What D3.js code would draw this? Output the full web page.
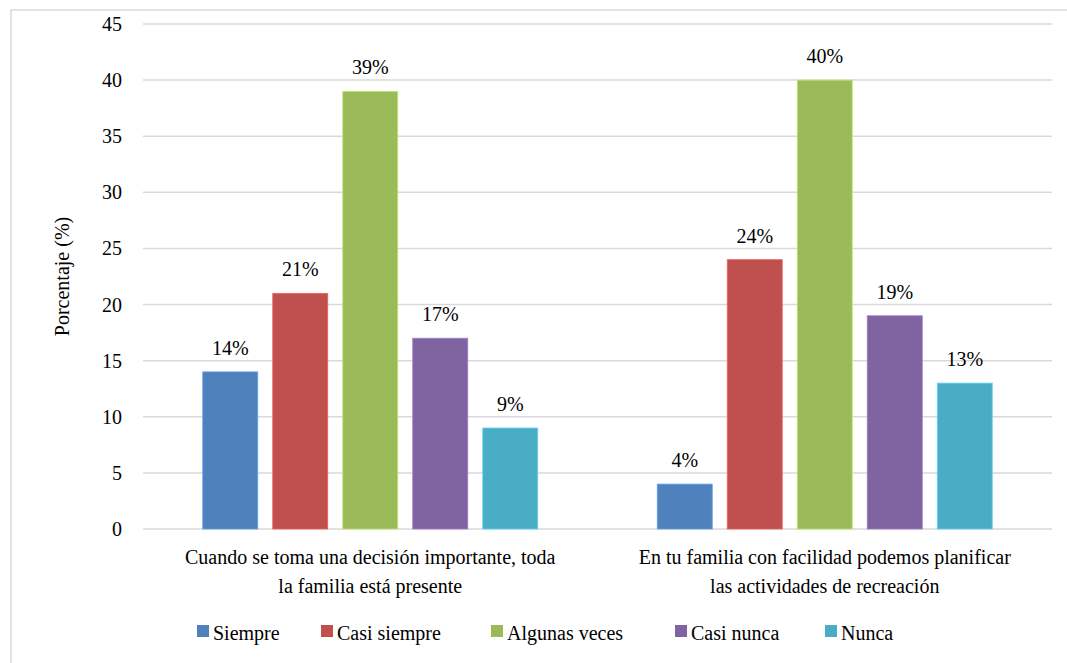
<!DOCTYPE html>
<html>
<head>
<meta charset="utf-8">
<script src="https://cdn.jsdelivr.net/npm/d3@7"></script>
</head>
<body style="margin:0;background:#fff">
<svg id="chart" width="1067" height="663"></svg>
<script>
const categories = [
  ["Cuando se toma una decisión importante, toda", "la familia está presente"],
  ["En tu familia con facilidad podemos planificar", "las actividades de recreación"],
];
const series = ["Siempre", "Casi siempre", "Algunas veces", "Casi nunca", "Nunca"];
const colors = ["#4F81BD", "#C0504D", "#9BBB59", "#8064A2", "#4BACC6"];
// values per category, in the order of series
const values = [
  [14, 21, 39, 17, 9],
  [4, 24, 40, 19, 13],
];
const yTicks = [0, 5, 10, 15, 20, 25, 30, 35, 40, 45];

const FONT = "Times New Roman";
const svg = d3.select("#chart");
const plot = { left: 143, right: 1052, top: 24, bottom: 529 };

function label(sel) {
  return sel.attr("font-family", FONT).attr("font-size", 20).attr("fill", "#000");
}

// outer chart frame
svg.append("rect")
  .attr("x", 11).attr("y", 10)
  .attr("width", 1070).attr("height", 700)
  .attr("fill", "#fff")
  .attr("stroke", "#D9D9D9")
  .attr("stroke-width", 1.5);

const y = d3.scaleLinear().domain([0, 45]).range([plot.bottom, plot.top]);

const x0 = d3.scaleBand()
  .domain(d3.range(categories.length))
  .range([plot.left, plot.right])
  .padding(0);

const bw = x0.bandwidth();
const pi = 15 / 70;
const po = (bw / 70 - series.length + pi) / 2;
const x1 = d3.scaleBand()
  .domain(d3.range(series.length))
  .range([0, bw])
  .paddingInner(pi)
  .paddingOuter(po);

// gridlines
svg.append("g").selectAll("line")
  .data(yTicks)
  .join("line")
  .attr("x1", plot.left).attr("x2", plot.right)
  .attr("y1", d => y(d)).attr("y2", d => y(d))
  .attr("stroke", "#D9D9D9")
  .attr("stroke-width", 1.5);

// tick labels
svg.append("g").selectAll("text")
  .data(yTicks)
  .join("text")
  .call(label)
  .attr("x", 122)
  .attr("y", d => y(d) + 7)
  .attr("text-anchor", "end")
  .text(d => d);

// bars
const groups = svg.append("g").selectAll("g")
  .data(values)
  .join("g")
  .attr("transform", (d, i) => `translate(${x0(i)},0)`);

groups.selectAll("rect")
  .data(d => d)
  .join("rect")
  .attr("x", (d, j) => x1(j))
  .attr("y", d => y(d))
  .attr("width", x1.bandwidth())
  .attr("height", d => y(0) - y(d))
  .attr("fill", (d, j) => colors[j])
  .attr("stroke", (d, j) => d3.color(colors[j]).brighter(0.6))
  .attr("stroke-width", 0.8);

groups.selectAll("text")
  .data(d => d)
  .join("text")
  .call(label)
  .attr("x", (d, j) => x1(j) + x1.bandwidth() / 2)
  .attr("y", d => y(d) - 17)
  .attr("text-anchor", "middle")
  .text(d => `${d}%`);

// category labels, one text per line
categories.forEach((lines, i) => {
  svg.append("g").selectAll("text")
    .data(lines)
    .join("text")
    .call(label)
    .attr("x", x0(i) + bw / 2)
    .attr("y", (d, k) => 564 + k * 29)
    .attr("text-anchor", "middle")
    .text(d => d);
});

// y axis title
svg.append("text")
  .call(label)
  .attr("transform", `translate(69,${(plot.top + plot.bottom) / 2}) rotate(-90)`)
  .attr("text-anchor", "middle")
  .text("Porcentaje (%)");

// legend
const legendX = [197, 321, 491, 675, 825];
const lg = svg.append("g").selectAll("g")
  .data(series)
  .join("g")
  .attr("transform", (d, i) => `translate(${legendX[i]},625)`);

lg.append("rect")
  .attr("width", 12).attr("height", 12)
  .attr("fill", (d, i) => colors[i]);

lg.append("text")
  .call(label)
  .attr("x", 16)
  .attr("y", 15)
  .text(d => d);
</script>
</body>
</html>
